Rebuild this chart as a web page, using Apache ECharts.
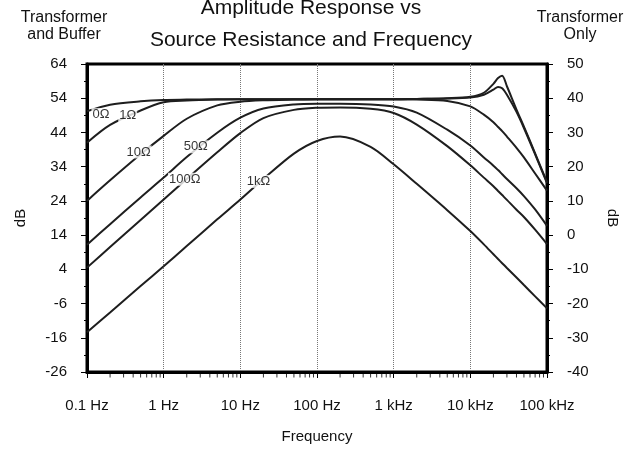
<!DOCTYPE html>
<html>
<head>
<meta charset="UTF-8" />
<title>Amplitude Response vs Source Resistance and Frequency</title>
<script type="text/javascript" src="https://cdn.jsdelivr.net/npm/echarts@6/dist/echarts.min.js"></script>
</head>
<body style="margin:0;background:#fff;">
<div id="main" style="width:638px;height:449px;"></div>
<script>
var freqHz = [0.1, 0.2, 0.5, 1, 2, 5, 10, 20, 50, 100, 200, 500, 1000, 2000, 5000,
              10000, 15000, 20000, 23000, 26000, 30000, 40000, 50000, 70000, 100000];

// dB values (left axis, transformer and buffer)
var db0R   = [50.2, 52.1, 53.1, 53.5, 53.6, 53.7, 53.7, 53.7, 53.7, 53.7, 53.7, 53.7, 53.7, 53.8, 54.0,
              54.4, 55.6, 58.2, 59.9, 60.6, 57.5, 50.7, 45.7, 37.9, 29.5];
var db1R   = [41.0, 46.2, 50.4, 52.8, 53.3, 53.6, 53.7, 53.7, 53.7, 53.7, 53.7, 53.7, 53.7, 53.8, 53.9,
              54.2, 55.0, 56.5, 57.3, 56.9, 55.0, 50.0, 45.3, 37.6, 29.2];
var db10R  = [24.0, 30.0, 37.6, 43.0, 48.0, 51.9, 53.0, 53.4, 53.6, 53.7, 53.7, 53.7, 53.7, 53.6, 53.2,
              51.6, 49.2, 47.0, 45.6, 44.4, 42.8, 39.5, 36.7, 32.0, 27.0];
var db50R  = [11.2, 17.2, 25.0, 30.8, 36.8, 43.9, 48.3, 51.0, 52.2, 52.4, 52.4, 52.2, 51.6, 49.8, 44.8,
              40.2, 36.7, 34.3, 33.0, 31.8, 30.4, 27.7, 25.4, 21.5, 16.7];
var db100R = [4.5, 10.5, 18.4, 24.4, 30.4, 38.2, 43.8, 48.2, 50.6, 51.2, 51.3, 50.9, 49.7, 46.3, 40.0,
              34.4, 30.8, 28.3, 26.9, 25.7, 24.3, 21.4, 19.3, 15.6, 11.4];
var db1kR  = [-14.4, -8.6, -0.9, 4.9, 10.8, 18.6, 24.4, 30.4, 37.8, 41.5, 42.8, 39.8, 34.7, 29.0, 21.3,
              15.2, 11.3, 8.4, 7.0, 5.8, 4.4, 1.6, -0.6, -3.9, -7.4];

var curveNames = ['0Ω', '1Ω', '10Ω', '50Ω', '100Ω', '1kΩ'];
var curveData = [db0R, db1R, db10R, db50R, db100R, db1kR];

// in-plot curve labels
var labelNames = ['0Ω', '1Ω', '10Ω', '50Ω', '100Ω', '1kΩ'];
var labelFreq  = [0.152, 0.34, 0.47, 2.62, 1.88, 17.3];
var labelDb    = [49.2, 48.9, 38.3, 39.8, 30.3, 29.7];

var xTickLabels = ['0.1 Hz', '1 Hz', '10 Hz', '100 Hz', '1 kHz', '10 kHz', '100 kHz'];

var font = "'Liberation Sans', Arial, sans-serif";

var minorFreq = [];
for (var d = 0.1; d < 100000; d *= 10) {
    for (var k = 2; k <= 9; k++) minorFreq.push(+(d * k).toPrecision(3));
}

var series = curveData.map(function (vals, i) {
    return {
        name: curveNames[i],
        type: 'line',
        data: freqHz.map(function (f, j) { return [f, vals[j]]; }),
        showSymbol: false,
        symbol: 'none',
        smooth: 0.3,
        lineStyle: { color: '#1e1e1e', width: 2 },
        z: 3
    };
});

series.push({
    name: 'labels',
    type: 'scatter',
    data: labelNames.map(function (n, i) { return { name: n, value: [labelFreq[i], labelDb[i]] }; }),
    symbolSize: 1,
    itemStyle: { color: 'rgba(0,0,0,0)' },
    label: {
        show: true, position: 'inside', formatter: '{b}',
        color: '#000', fontFamily: font, fontSize: 13,
        backgroundColor: '#fff', padding: [0, 1]
    },
    silent: true,
    z: 10
});

series.push({
    name: 'minorTicks',
    type: 'scatter',
    data: minorFreq.map(function (f) { return [f, -26]; }),
    symbol: 'rect',
    symbolSize: [1, 4],
    symbolOffset: [0, 3.5],
    itemStyle: { color: '#000' },
    clip: false,
    silent: true,
    z: 6
});

var mychart = echarts.init(document.getElementById('main'));

var option = {
    animation: false,
    backgroundColor: '#fff',
    title: [
        {
            text: 'Amplitude Response vs\nSource Resistance and Frequency',
            left: 306, top: -13, textAlign: 'center',
            textStyle: { fontFamily: font, fontSize: 21, fontWeight: 'normal', color: '#111', lineHeight: 32 }
        },
        {
            text: 'Transformer\nand Buffer',
            left: 59, top: 4, textAlign: 'center',
            textStyle: { fontFamily: font, fontSize: 16, fontWeight: 'normal', color: '#111', lineHeight: 17 }
        },
        {
            text: 'Transformer\nOnly',
            left: 575, top: 4, textAlign: 'center',
            textStyle: { fontFamily: font, fontSize: 16, fontWeight: 'normal', color: '#111', lineHeight: 17 }
        }
    ],
    grid: {
        left: 87, right: 91, top: 64, bottom: 75,
        show: true, borderColor: '#000', borderWidth: 3, backgroundColor: '#fff'
    },
    xAxis: {
        type: 'log', logBase: 10, min: 0.1, max: 100000, splitNumber: 6,
        name: 'Frequency', nameLocation: 'middle', nameGap: 57,
        nameTextStyle: { fontFamily: font, fontSize: 15, color: '#111' },
        axisLine: { onZero: false, lineStyle: { color: '#000', width: 3 } },
        axisTick: { length: 6, lineStyle: { color: '#000' } },
        axisLabel: {
            margin: 26, fontFamily: font, fontSize: 15, color: '#111',
            formatter: function (v, i) { return xTickLabels[i]; }
        },
        splitLine: { show: true, lineStyle: { color: '#777', type: 'dotted', width: 1 } }
    },
    yAxis: [
        {
            type: 'value', position: 'left', min: -26, max: 64, interval: 10,
            name: 'dB', nameLocation: 'middle', nameGap: 59, nameRotate: 90, nameMoveOverlap: false,
            nameTextStyle: { fontFamily: font, fontSize: 15, color: '#111' },
            axisLine: { show: true, onZero: false, lineStyle: { color: '#000', width: 3 } },
            axisTick: { show: true, length: 6, lineStyle: { color: '#000' } },
            minorTick: { show: true, splitNumber: 2, length: 3, lineStyle: { color: '#000' } },
            axisLabel: { margin: 20, fontFamily: font, fontSize: 15, color: '#111' },
            splitLine: { show: false }
        },
        {
            type: 'value', position: 'right', min: -40, max: 50, interval: 10,
            name: 'dB', nameLocation: 'middle', nameGap: 58, nameRotate: -90,
            nameTextStyle: { fontFamily: font, fontSize: 15, color: '#111' },
            axisLine: { show: true, onZero: false, lineStyle: { color: '#000', width: 3 } },
            axisTick: { show: true, length: 6, lineStyle: { color: '#000' } },
            minorTick: { show: true, splitNumber: 2, length: 3, lineStyle: { color: '#000' } },
            axisLabel: { margin: 20, fontFamily: font, fontSize: 15, color: '#111' },
            splitLine: { show: false }
        }
    ],
    series: series
};

mychart.setOption(option);
</script>
</body>
</html>
